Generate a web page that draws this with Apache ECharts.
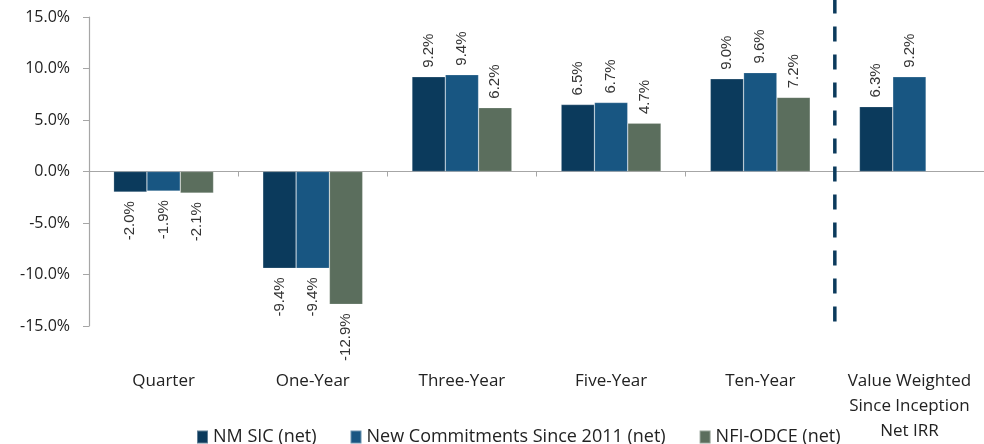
<!DOCTYPE html>
<html>
<head>
<meta charset="utf-8">
<script src="https://cdn.jsdelivr.net/npm/echarts@6/dist/echarts.min.js"></script>
<style>
  html, body { margin: 0; padding: 0; background: #fff; }
  #chart { width: 984px; height: 444px; }
</style>
</head>
<body>
<div id="chart"></div>
<script>
// Return periods
const categories = ['Quarter', 'One-Year', 'Three-Year', 'Five-Year', 'Ten-Year', 'Value Weighted\nSince Inception\nNet IRR'];

// Net returns (%) by series
const nmSic = [-2.0, -9.4, 9.2, 6.5, 9.0, 6.3];
const newCommitments = [-1.9, -9.4, 9.4, 6.7, 9.6, 9.2];
const nfiOdce = [-2.1, -12.9, 6.2, 4.7, 7.2, null];

const seriesNames = ['NM SIC (net)', 'New Commitments Since 2011 (net)', 'NFI-ODCE (net)'];
const seriesColors = ['#0B3A5C', '#185682', '#5B6E5D'];

// Divider between the period returns and the since-inception IRR
const dividerIndex = 5;

const FONT = '"Open Sans", sans-serif';

function toItems(values) {
  return values.map(v => v == null ? null : {
    value: v,
    label: { align: v >= 0 ? 'left' : 'right' }
  });
}

function barSeries(name, values, color) {
  return {
    name: name,
    type: 'bar',
    xAxisIndex: 0,
    yAxisIndex: 0,
    barGap: 0,
    barCategoryGap: '33%',
    itemStyle: { color: color, borderColor: 'rgba(255,255,255,0.35)', borderWidth: 0.6 },
    label: {
      show: true,
      position: 'outside',
      rotate: 90,
      distance: 9,
      verticalAlign: 'middle',
      fontFamily: '"Liberation Sans", Arial, sans-serif',
      fontSize: 15,
      color: '#333',
      formatter: p => p.value.toFixed(1) + '%'
    },
    data: toItems(values)
  };
}

const chart = echarts.init(document.getElementById('chart'), null, { renderer: 'canvas' });

chart.setOption({
  animation: false,
  backgroundColor: '#fff',
  grid: { left: 89, right: -17, top: 17, bottom: 115, containLabel: false },
  legend: {
    data: seriesNames,
    left: 196,
    top: 428,
    padding: 0,
    icon: 'rect',
    itemWidth: 11,
    itemHeight: 13,
    itemGap: 33,
    textStyle: { fontFamily: FONT, fontSize: 18, color: '#222' }
  },
  xAxis: [
    {
      type: 'category',
      data: categories,
      axisLine: { onZero: true, lineStyle: { color: '#A6A6A6', width: 1.2 } },
      axisTick: { show: true, length: 5, lineStyle: { color: '#A6A6A6' } },
      axisLabel: { show: false },
      splitLine: { show: false }
    },
    {
      type: 'category',
      data: categories,
      position: 'bottom',
      axisLine: { show: false, onZero: false },
      axisTick: { show: false },
      splitLine: { show: false },
      axisLabel: {
        margin: 43,
        interval: 0,
        fontFamily: FONT,
        fontSize: 17,
        lineHeight: 25,
        color: '#222'
      }
    },
    {
      type: 'value',
      min: 0,
      max: categories.length,
      show: false
    }
  ],
  yAxis: {
    type: 'value',
    min: -15,
    max: 15,
    interval: 5,
    axisLine: { show: true, lineStyle: { color: '#A6A6A6', width: 1.2 } },
    axisTick: { show: true, length: 6, inside: false, lineStyle: { color: '#A6A6A6' } },
    splitLine: { show: false },
    axisLabel: {
      margin: 19,
      fontFamily: FONT,
      fontSize: 16,
      color: '#222',
      formatter: v => v.toFixed(1) + '%'
    }
  },
  series: [
    barSeries(seriesNames[0], nmSic, seriesColors[0]),
    barSeries(seriesNames[1], newCommitments, seriesColors[1]),
    barSeries(seriesNames[2], nfiOdce, seriesColors[2]),
    {
      name: 'divider',
      type: 'line',
      xAxisIndex: 2,
      yAxisIndex: 0,
      clip: false,
      silent: true,
      symbol: 'none',
      lineStyle: { color: '#0B3A5C', width: 3.5, type: [15, 13] },
      data: [[dividerIndex, 16.8], [dividerIndex, -14.6]]
    }
  ]
});
</script>
</body>
</html>
